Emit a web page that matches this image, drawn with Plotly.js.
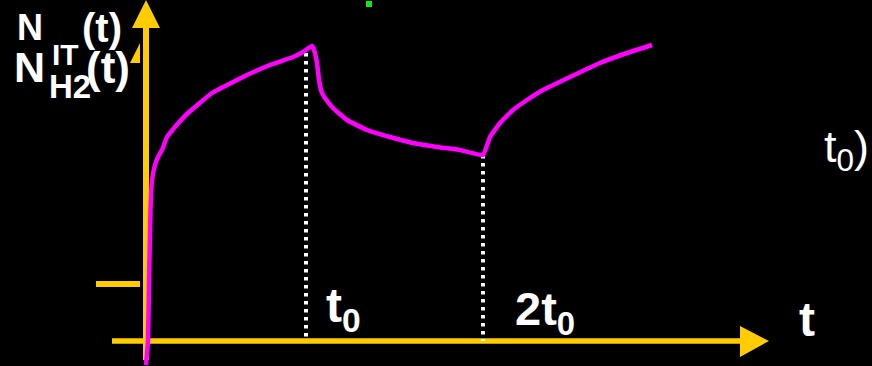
<!DOCTYPE html>
<html>
<head>
<meta charset="utf-8">
<script src="https://cdn.plot.ly/plotly-3.0.1.min.js"></script>
<style>
  html, body { margin: 0; padding: 0; background: #000; }
  #chart { width: 872px; height: 366px; }
</style>
</head>
<body>
<div id="chart"></div>
<script>
// Number of particles over time: rise, decay after t0, rise again after 2t0
const curveT = [0, 2, 3, 4.5, 6, 9, 12, 16, 21, 29, 42, 66, 91, 101, 124, 147, 157, 166, 168, 171,
                173, 176, 179, 187, 201, 221, 244, 267, 291, 314, 337, 344, 354, 367, 381, 397, 424, 454, 481, 506];
const curveN = [-24, 1, 58, 131, 161, 176, 184, 191, 204, 214, 228, 248, 261, 266, 276, 284, 289, 295, 291, 278,
                261, 248, 243, 233, 221, 211, 204, 198, 194, 191, 186, 204, 218, 231, 241, 251, 264, 278, 288, 296];

// Switching instants and the curve level reached there
const markT = [160, 337];
const markN = [288, 186];
const markLabels = ['t<sub>0</sub>', '2t<sub>0</sub>'];

// Small level tick on the vertical axis
const levelN = [57];

const YELLOW = '#FFCC00';
const MAGENTA = '#FF00FF';
const WHITE = '#FFFFFF';
const SANS = 'Liberation Sans, Arial, sans-serif';

const traces = [];

// dotted guides from the curve down to the time axis
markT.forEach((t, i) => {
  traces.push({
    x: [t, t], y: [markN[i], 0],
    mode: 'lines', hoverinfo: 'skip',
    line: { color: WHITE, width: 4, dash: '3.5px,4.5px' }
  });
});

traces.push({
  x: curveT, y: curveN,
  mode: 'lines', hoverinfo: 'skip',
  line: { color: MAGENTA, width: 4.5, shape: 'spline', smoothing: 0.3 }
});

// small green dot near the top
traces.push({
  x: [223], y: [337],
  mode: 'markers', hoverinfo: 'skip',
  marker: { symbol: 'square', size: 6, color: '#16E616' }
});

const shapes = [
  { type: 'line', xref: 'x', yref: 'y', x0: 0, x1: 0, y0: -19, y1: 315, line: { color: YELLOW, width: 6 }, layer: 'below' },
  { type: 'line', xref: 'x', yref: 'y', x0: -34, x1: 596, y0: 0, y1: 0, line: { color: YELLOW, width: 5.5 }, layer: 'below' },
  { type: 'line', xref: 'x', yref: 'y', x0: -50, x1: -6, y0: levelN[0], y1: levelN[0], line: { color: YELLOW, width: 6 }, layer: 'below' },
  { type: 'path', xref: 'x', yref: 'y', path: 'M -14 313 L 14 313 L 0 341 Z', fillcolor: YELLOW, line: { width: 0 }, layer: 'below' },
  { type: 'path', xref: 'x', yref: 'y', path: 'M 594 15 L 623 0 L 594 -16 Z', fillcolor: YELLOW, line: { width: 0 }, layer: 'below' },
  { type: 'path', xref: 'x', yref: 'y', path: 'M -6 298 L -6 278 L -16 278 Z', fillcolor: YELLOW, line: { width: 0 }, layer: 'below' }
];

function label(text, x, y, size, weight) {
  return {
    text: text, x: x, y: y, xref: 'x', yref: 'y',
    xanchor: 'left', yanchor: 'top', showarrow: false,
    font: { family: SANS, size: size, color: WHITE, weight: weight }
  };
}

const annotations = [
  label('N', -131, 336, 36, 700),
  label('IT', -96, 305, 30, 700),
  label('(t)', -66, 337, 40, 700),
  label('N', -134, 300, 43, 700),
  label('H2', -99, 275, 33, 700),
  label('(t)', -62, 300, 44, 700),
  label(markLabels[0], 178, 64, 48, 700),
  label(markLabels[1], 367, 61, 47, 700),
  label('t', 651, 50, 48, 700),
  label('t<sub>0</sub>)', 676, 222, 45, 400)
];

const layout = {
  width: 872, height: 366,
  margin: { l: 0, r: 0, t: 0, b: 0 },
  paper_bgcolor: '#000000', plot_bgcolor: '#000000',
  showlegend: false,
  xaxis: { range: [-146, 726], visible: false, fixedrange: true },
  yaxis: { range: [-25, 341], visible: false, fixedrange: true },
  shapes: shapes,
  annotations: annotations
};

Plotly.newPlot('chart', traces, layout, { displayModeBar: false, staticPlot: true });
</script>
</body>
</html>
